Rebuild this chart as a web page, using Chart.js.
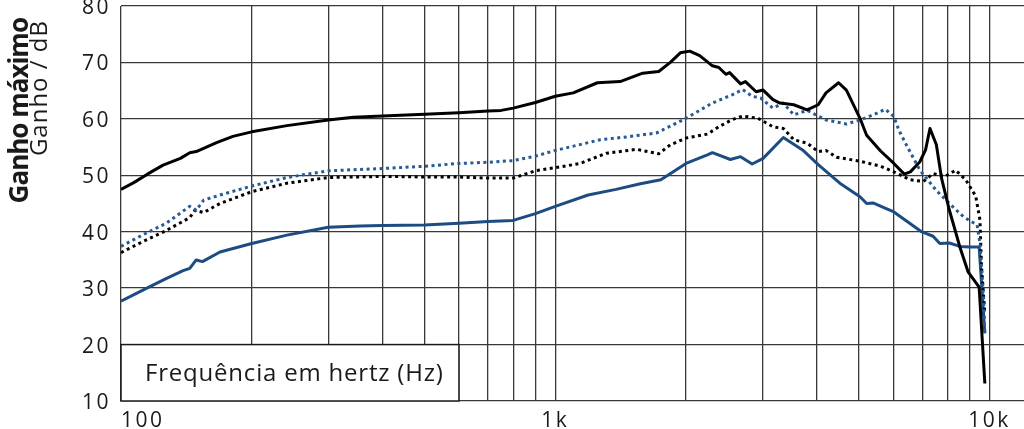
<!DOCTYPE html>
<html lang="pt">
<head>
<meta charset="utf-8">
<title>Ganho máximo</title>
<script src="https://cdn.jsdelivr.net/npm/chart.js@4.4.1/dist/chart.umd.min.js"></script>
<style>
  html, body { margin: 0; padding: 0; background: #fff; }
  #wrap { width: 1024px; height: 429px; }
</style>
</head>
<body>
<div id="wrap"><canvas id="gainChart" width="1024" height="429"></canvas></div>
<script>
'use strict';

// x gridlines (Hz) and the few that carry a label
const GRID_HZ = [100, 200, 300, 400, 500, 600, 700, 800, 900,
  1000, 2000, 3000, 4000, 5000, 6000, 7000, 8000, 9000, 10000];
const X_LABELS = { 100: '100', 1000: '1k', 10000: '10k' };

// black solid (top curve)
const blackSolidHz = [100, 107, 115, 125, 137, 144, 149, 166, 181, 200, 241, 300, 343, 400,
  500, 600, 700, 750, 800, 900, 1000, 1100, 1250, 1410, 1590, 1730, 1840, 1940, 2040,
  2150, 2300, 2380, 2470, 2520, 2670, 2740, 2900, 3010, 3170, 3290, 3540, 3800, 4030,
  4200, 4490, 4680, 5030, 5210, 5610, 6020, 6360, 6570, 6910, 7120, 7290, 7540, 7750,
  8080, 8540, 8920, 9460, 9750];
const blackSolidDb = [47.5, 48.7, 50.2, 51.8, 53.0, 54.0, 54.2, 55.8, 56.9, 57.7, 58.8, 59.8, 60.3, 60.5,
  60.8, 61.1, 61.4, 61.5, 61.9, 62.9, 64.0, 64.6, 66.4, 66.6, 68.1, 68.4, 70.0, 71.7, 72.0,
  71.2, 69.4, 69.1, 67.9, 68.2, 66.2, 66.6, 64.8, 65.1, 63.4, 62.8, 62.5, 61.6, 62.5,
  64.6, 66.4, 65.1, 60.1, 57.1, 54.3, 52.1, 50.2, 50.6, 52.4, 54.5, 58.3, 55.4, 49.5,
  43.8, 37.3, 32.9, 30.2, 13.1];

// blue dotted
const blueDotHz = [100, 112, 127, 144, 149, 155, 169, 200, 241, 300, 400, 500, 600, 700, 800,
  900, 1000, 1270, 1460, 1710, 2000, 2300, 2560, 2700, 2840, 2970, 3170, 3350, 3540, 3800,
  4200, 4680, 5030, 5390, 5750, 6020, 6180, 6460, 6910, 7540, 8080, 8720, 9360, 9500,
  9690, 9750];
const blueDotDb = [37.4, 39.4, 41.5, 44.5, 43.8, 45.6, 46.5, 48.1, 49.6, 50.8, 51.2, 51.6, 52.1, 52.3, 52.6,
  53.4, 54.4, 56.3, 56.8, 57.5, 60.1, 62.8, 64.3, 65.2, 64.0, 63.7, 61.9, 62.8, 60.7, 61.5,
  59.8, 59.1, 59.8, 60.7, 61.7, 60.4, 58.0, 55.1, 50.9, 47.3, 45.0, 42.6, 41.2, 37.9,
  27.9, 22.0];

// black dotted
const blackDotHz = [100, 112, 127, 144, 148, 155, 169, 200, 241, 300, 400, 500, 600, 700, 800,
  900, 1030, 1140, 1310, 1540, 1730, 1840, 2000, 2240, 2380, 2560, 2700, 2930, 3170, 3350,
  3540, 3800, 4030, 4200, 4440, 5030, 5610, 6020, 6570, 7040, 7410, 7890, 8350, 8810,
  9290, 9500, 9580, 9750];
const blackDotDb = [36.3, 38.2, 40.2, 42.5, 43.8, 43.4, 45.0, 47.1, 48.6, 49.6, 49.8, 49.7, 49.7, 49.5, 49.5,
  50.8, 51.5, 52.1, 53.9, 54.6, 53.8, 55.4, 56.6, 57.3, 58.6, 59.9, 60.5, 60.1, 58.6, 58.3,
  56.3, 55.7, 54.2, 54.4, 53.2, 52.5, 51.6, 50.6, 49.2, 48.9, 50.3, 49.8, 50.9, 49.2,
  46.3, 42.1, 33.8, 25.5];

// blue solid (bottom curve)
const blueSolidHz = [100, 112, 127, 139, 144, 149, 154, 169, 200, 241, 300, 355, 400, 500, 600,
  700, 800, 900, 1000, 1190, 1380, 1570, 1750, 2000, 2240, 2300, 2530, 2670, 2840, 3010,
  3350, 3710, 4030, 4520, 5030, 5210, 5390, 5780, 6020, 6460, 6970, 7410, 7680, 8080,
  8540, 9030, 9460, 9750];
const blueSolidDb = [27.7, 29.6, 31.7, 33.1, 33.5, 35.0, 34.7, 36.4, 37.9, 39.4, 40.8, 41.0, 41.1, 41.2, 41.5,
  41.8, 42.0, 43.2, 44.5, 46.5, 47.5, 48.5, 49.2, 52.1, 53.6, 54.0, 52.8, 53.3, 52.0, 53.0,
  56.7, 54.5, 51.9, 48.6, 46.2, 45.0, 45.1, 44.1, 43.5, 41.8, 40.0, 39.2, 37.9, 38.0,
  37.4, 37.3, 37.3, 22.0];

const BLUE = '#1d4c82';
const BLUE_DOT = '#285a93';
const INK = '#1a1a1a';
const GRID = '#383838';
const FONT = '"Open Sans", "Noto Sans", sans-serif';

const pts = (hz, db) => hz.map((f, i) => ({ x: f, y: db[i] }));

function series(hz, db, color, dotted) {
  return {
    data: pts(hz, db),
    borderColor: color,
    borderWidth: 3,
    borderDash: dotted ? [3, 3.5] : [],
    borderCapStyle: 'butt',
    borderJoinStyle: 'round',
    pointRadius: 0,
    tension: 0,
    fill: false
  };
}

// rotated text, reading upwards, ending at (x, yEnd); x is the baseline
function upText(ctx, text, x, yEnd, font, spacing) {
  ctx.save();
  ctx.fillStyle = INK;
  ctx.font = font;
  ctx.letterSpacing = spacing;
  ctx.textAlign = 'right';
  ctx.textBaseline = 'alphabetic';
  ctx.translate(x, yEnd);
  ctx.rotate(-Math.PI / 2);
  ctx.fillText(text, 0, 0);
  ctx.restore();
}

// frequency caption box in the bottom-left corner, titles on the left
const decorations = {
  id: 'decorations',
  beforeDraw(chart) {
    // tick numbers in the original are set wide
    chart.ctx.letterSpacing = '2.5px';
  },
  beforeDatasetsDraw(chart) {
    const { ctx, scales: { x, y } } = chart;
    const l = x.getPixelForValue(100), r = x.getPixelForValue(600);
    const t = y.getPixelForValue(20), b = y.getPixelForValue(10);
    ctx.save();
    ctx.fillStyle = '#fff';
    ctx.fillRect(l, t, r - l, b - t);
    ctx.strokeStyle = INK;
    ctx.lineWidth = 1.5;
    ctx.strokeRect(l, t, r - l, b - t);
    ctx.fillStyle = INK;
    ctx.font = '24px ' + FONT;
    ctx.letterSpacing = '0.8px';
    ctx.textBaseline = 'middle';
    ctx.textAlign = 'left';
    ctx.fillText('Frequência em hertz (Hz)', l + 24, (t + b) / 2 + 1);
    ctx.restore();
  },
  afterDraw(chart) {
    upText(chart.ctx, 'Ganho máximo', 28, 18, 'bold 26px ' + FONT, '-1px');
    upText(chart.ctx, 'Ganho / dB', 47, 20, '24px ' + FONT, '1px');
  }
};

new Chart(document.getElementById('gainChart'), {
  type: 'line',
  data: {
    datasets: [
      series(blackSolidHz, blackSolidDb, '#000', false),
      series(blueDotHz, blueDotDb, BLUE_DOT, true),
      series(blackDotHz, blackDotDb, '#000', true),
      series(blueSolidHz, blueSolidDb, BLUE, false)
    ]
  },
  options: {
    responsive: false,
    animation: false,
    parsing: false,
    layout: { padding: { top: 6, right: 0, bottom: 0, left: 0 } },
    plugins: { legend: { display: false }, tooltip: { enabled: false } },
    scales: {
      x: {
        type: 'logarithmic',
        min: 100,
        max: 12000,
        afterBuildTicks(scale) {
          scale.ticks = GRID_HZ.concat([scale.max]).map(v => ({ value: v }));
        },
        afterFit(scale) {
          scale.height = 28;
          scale.paddingLeft = 0;
          scale.paddingRight = 0;
        },
        ticks: {
          autoSkip: false,
          maxRotation: 0,
          align: 'inner',
          padding: 7,
          color: INK,
          font: { family: FONT, size: 21 },
          callback: v => X_LABELS[v] || ''
        },
        grid: {
          color: c => (c.tick && c.tick.value > 10000) ? 'rgba(0,0,0,0)' : GRID,
          lineWidth: 1.3,
          drawTicks: false
        },
        border: { display: false }
      },
      y: {
        min: 10,
        max: 80,
        afterFit(scale) {
          scale.width = 121;
          scale.paddingTop = 0;
          scale.paddingBottom = 0;
        },
        ticks: {
          stepSize: 10,
          padding: 10,
          labelOffset: 2,
          color: INK,
          font: { family: FONT, size: 21 }
        },
        grid: { color: GRID, lineWidth: 1.3, drawTicks: false },
        border: { display: false }
      }
    }
  },
  plugins: [decorations]
});
</script>
</body>
</html>
